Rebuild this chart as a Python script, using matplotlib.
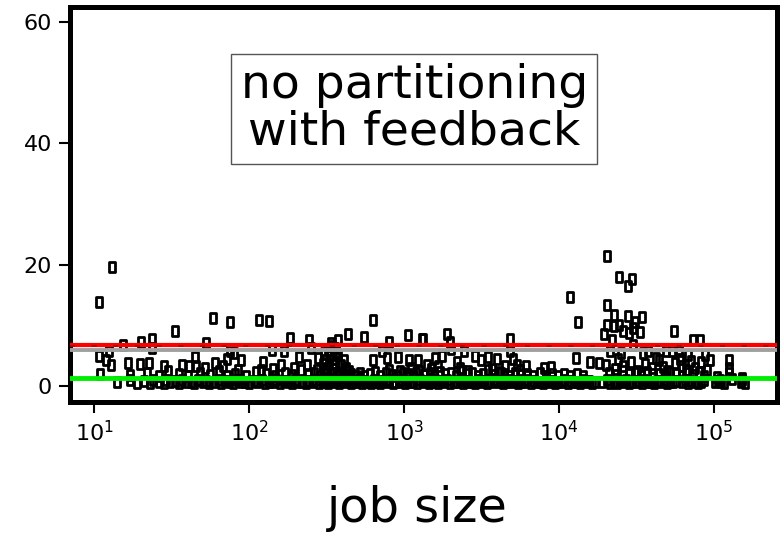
"""Slowdown vs job size, no partitioning with feedback"""

import matplotlib
matplotlib.use('Agg')
import matplotlib.pyplot as plt
import numpy as np
from matplotlib.path import Path

# outliers, (job size, value)
left_pts = [(10.7, 13.8), (13, 19.6), (58, 11.2), (75, 10.6), (33, 9.1), (15.4, 6.8), (20, 7.3),
            (23.5, 7.7), (23.5, 6.2), (12.4, 5.8), (10.7, 4.95), (11.9, 4.3), (12.8, 3.5), (10.9, 2.0),
            (16.6, 3.7), (19.6, 3.6), (22.5, 3.7), (28.3, 3.35), (37, 3.5), (41, 3.3), (45, 4.8),
            (45.5, 3.2), (52, 3.0), (52.5, 7.1), (60, 3.7), (68, 3.2), (71.6, 4.4), (75, 5.7),
            (80, 5.4), (89, 4.2), (85, 2.6)]

mid_pts = [(116, 10.9), (134, 10.7), (631, 10.8), (183, 7.9), (243, 7.6), (436, 8.5), (551, 8.1),
           (1067, 8.4), (1300, 7.7), (376, 7.6), (338, 7.0), (141, 5.9), (168, 5.8), (210, 4.8),
           (252, 6.2), (279, 4.6), (304, 5.4), (323, 5.9), (356, 6.2), (410, 4.3), (631, 4.3),
           (716, 5.7), (770, 4.6), (800, 7.3), (914, 4.8), (1080, 4.3), (1230, 4.3), (123, 4.0),
           (120, 2.6), (143, 2.8), (160, 3.5), (195, 2.9), (235, 3.5), (272, 2.6), (795, 2.6),
           (940, 2.4), (310, 4.2), (330, 5.0), (345, 4.5), (360, 3.8), (375, 5.1), (390, 3.4),
           (320, 3.0), (350, 2.8), (300, 3.6), (420, 3.0), (440, 2.5), (380, 2.2), (340, 6.5),
           (365, 5.6)]

midright_pts = [(11800, 14.6), (13300, 10.6), (1320, 7.7), (1880, 8.6), (1990, 7.3), (2000, 6.05),
                (2450, 5.8), (4830, 7.7), (4830, 5.8), (2870, 4.95), (3160, 4.2), (3480, 4.7),
                (4000, 4.4), (5070, 4.4), (5350, 3.5), (6160, 3.3), (12900, 4.6), (15900, 4.0),
                (18200, 3.7), (1590, 4.6), (1750, 4.95), (2180, 4.0), (7950, 2.9), (8930, 3.1),
                (1400, 3.5), (1500, 2.8), (1650, 3.2), (2300, 3.0), (2600, 2.5), (1100, 3.0),
                (1200, 2.2), (4500, 3.2), (5600, 2.6), (3700, 2.8), (4200, 2.2)]

right_pts = [(20400, 21.5), (24500, 17.9), (29400, 17.6), (27700, 16.4), (20400, 13.4), (22600, 11.7),
             (28000, 11.6), (34200, 11.3), (31000, 10.6), (20400, 10.1), (22600, 9.8), (24500, 10.1),
             (26000, 9.0), (28200, 8.7), (30200, 9.5), (33100, 8.9), (19500, 8.5), (55000, 9.1),
             (21900, 7.6), (30200, 6.8), (73000, 7.5), (81000, 7.5), (21400, 5.7), (25100, 5.4),
             (35000, 5.4), (37700, 5.8), (49000, 5.8), (53300, 5.7), (59700, 5.8), (68400, 5.1),
             (87000, 5.1), (126000, 4.3), (126000, 3.0), (20000, 3.5), (23000, 2.8), (26000, 3.2),
             (29000, 4.0), (32000, 2.5), (36000, 3.6), (40000, 2.9), (44000, 4.2), (47000, 3.1),
             (50000, 2.4), (56000, 3.8), (62000, 3.3), (66000, 2.7), (71000, 4.1), (76000, 3.0),
             (83000, 3.9), (90000, 2.6), (95000, 4.2), (24000, 4.5), (42000, 4.6), (60000, 4.4),
             (126000, 2.2), (104000, 1.5), (153000, 1.3), (153000, 0.9), (110000, 1.0), (130000, 1.1)]

# the dense band near the bottom
band_pts = [(14, 0.6), (17, 0.9), (19, 0.5), (21, 0.8), (23, 0.4), (24, 1.0), (26, 0.7), (28, 0.5),
            (29, 0.9), (31, 0.6), (33, 0.8), (35, 0.5), (37, 0.9), (39, 0.6), (42, 0.7), (44, 0.4),
            (47, 0.9), (50, 0.6), (53, 0.8), (55, 0.5), (59, 0.7), (63, 0.9), (66, 0.5), (70, 0.8),
            (74, 0.6), (79, 0.4), (83, 0.9), (88, 0.6), (94, 0.7), (99, 0.5), (108, 0.8), (113, 0.6),
            (121, 0.9), (127, 0.5), (134, 0.7), (142, 0.6), (150, 0.9), (158, 0.5), (167, 0.8),
            (178, 0.6), (188, 0.4), (199, 0.9), (205, 0.6), (218, 0.7), (231, 0.5), (244, 0.8),
            (259, 0.6), (270, 0.9), (283, 0.4), (298, 0.7), (311, 0.9), (325, 0.5), (338, 0.8),
            (352, 0.6), (366, 1.0), (381, 0.5), (398, 0.8), (415, 0.6), (433, 0.9), (452, 0.5),
            (470, 0.7), (491, 0.6), (515, 0.9), (538, 0.5), (560, 0.8), (588, 0.6), (615, 0.4),
            (640, 0.9), (668, 0.7), (702, 0.5), (735, 0.8), (768, 0.6), (805, 0.9), (842, 0.5),
            (880, 0.7), (921, 0.6), (963, 0.9), (1010, 0.5), (1055, 0.8), (1102, 0.6), (1150, 0.7),
            (1210, 0.5), (1265, 0.9), (1320, 0.6), (1385, 0.8), (1450, 0.4), (1515, 0.7), (1590, 0.9),
            (1660, 0.5), (1740, 0.8), (1820, 0.6), (1905, 0.9), (1990, 0.5), (2090, 0.7), (2180, 0.6),
            (2290, 0.9), (2395, 0.5), (2505, 0.8), (2620, 0.6), (2745, 0.7), (2870, 0.5), (3010, 0.9),
            (3150, 0.6), (3300, 0.8), (3450, 0.5), (3610, 0.7), (3780, 0.9), (3960, 0.6), (4140, 0.8),
            (4340, 0.5), (4540, 0.7), (4750, 0.9), (4980, 0.6), (5210, 0.8), (5450, 0.5), (5710, 0.7),
            (5980, 0.6), (6260, 0.9), (6550, 0.5), (6860, 0.8), (7180, 0.6), (7520, 0.7), (7870, 0.5),
            (8240, 0.9), (8630, 0.6), (9030, 0.8), (9460, 0.5), (9900, 0.7), (10370, 0.6), (10850, 0.9),
            (11360, 0.5), (11900, 0.8), (12450, 0.6), (13040, 0.7), (13650, 0.5), (14300, 0.9),
            (14970, 0.6), (15670, 0.8), (16410, 0.5), (17180, 0.7), (19000, 0.6), (20500, 0.9),
            (21500, 0.5), (22600, 0.7), (23700, 0.4), (24800, 0.8), (26000, 0.6), (27200, 0.9),
            (28500, 0.5), (29800, 0.7), (31200, 0.6), (32700, 0.8), (34300, 0.5), (35900, 0.9),
            (37600, 0.6), (39400, 0.7), (41200, 0.5), (43200, 0.8), (45200, 0.6), (47300, 0.9),
            (49500, 0.5), (51900, 0.7), (54300, 0.6), (56900, 0.8), (62400, 0.7), (65300, 0.9),
            (68400, 0.5), (71600, 0.8), (75000, 0.6), (78500, 0.4), (82200, 0.7), (86100, 0.9),
            (101000, 0.6), (106000, 0.8), (112000, 0.6), (116000, 0.5), (150000, 0.7), (158000, 0.5)]

upper_band_pts = [(17, 1.8), (22, 2.1), (26, 1.7), (30, 2.4), (35, 1.9), (40, 1.6), (48, 2.2), (56, 1.8),
                  (64, 2.5), (72, 1.7), (81, 2.0), (95, 1.6), (110, 2.3), (128, 1.9), (146, 1.7), (170, 2.2),
                  (190, 1.8), (215, 2.6), (240, 1.9), (262, 2.2), (288, 1.7), (310, 2.4), (330, 1.9),
                  (350, 2.1), (372, 1.6), (395, 2.3), (425, 1.8), (455, 2.0), (490, 1.7), (520, 2.2),
                  (555, 1.6), (600, 1.9), (650, 2.3), (700, 1.7), (760, 2.1), (830, 1.8), (900, 1.6),
                  (980, 2.2), (1060, 1.9), (1150, 1.7), (1240, 2.4), (1350, 1.8), (1460, 2.1), (1570, 1.6),
                  (1700, 2.3), (1840, 1.9), (2000, 2.2), (2150, 1.7), (2350, 2.5), (2550, 1.9), (2750, 2.2),
                  (3000, 1.7), (3250, 2.0), (3500, 2.6), (3800, 1.8), (4100, 2.3), (4400, 1.9), (4800, 1.6),
                  (5200, 2.2), (5700, 1.8), (6200, 2.0), (6800, 1.6), (7500, 2.1), (8200, 1.7), (9000, 2.0),
                  (9800, 1.6), (10800, 1.9), (11800, 1.7), (13000, 2.0), (14200, 1.6), (21000, 2.2),
                  (23500, 1.8), (26000, 2.4), (28500, 1.9), (31000, 2.1), (34000, 1.7), (37000, 2.3),
                  (40500, 1.9), (44000, 2.0), (48000, 1.7), (52000, 2.2), (57000, 1.9), (62000, 1.6),
                  (67000, 2.1), (73000, 1.8), (80000, 2.3), (86000, 1.7)]

# summary levels drawn as horizontal lines
mean_level = 6.8
mean_dash_level = 6.5
grey_level = 6.0
median_level = 1.3

x_ticks = [10, 100, 1000, 10000, 100000]
x_tick_labels = ['$10^{1}$', '$10^{2}$', '$10^{3}$', '$10^{4}$', '$10^{5}$']
y_ticks = [0, 20, 40, 60]


def main():
    all_pts = band_pts + upper_band_pts + left_pts + mid_pts + midright_pts + right_pts
    xs = np.array([p[0] for p in all_pts])
    ys = np.array([p[1] for p in all_pts])

    # small upright rectangle marker
    rect = Path([(-0.3, -0.5), (0.3, -0.5), (0.3, 0.5), (-0.3, 0.5), (-0.3, -0.5)],
                [Path.MOVETO, Path.LINETO, Path.LINETO, Path.LINETO, Path.CLOSEPOLY])

    fig = plt.figure(figsize=(7.82, 5.38), dpi=100)
    ax = fig.add_axes([0.0895, 0.253, 0.904, 0.734])

    ax.plot(xs, ys, linestyle='none', marker=rect, markersize=6.8, mfc='none',
            mec='black', mew=2.0, zorder=2)

    ax.axhline(grey_level, color='#a0a0a0', lw=2.8, zorder=3)
    ax.axhline(mean_level, color='#ff0000', lw=3, zorder=4)
    ax.axhline(mean_dash_level, color='#b00000', lw=1.2, dashes=(3, 10), zorder=5)
    ax.axhline(median_level, color='#00ee00', lw=3.5, zorder=4)

    ax.set_xscale('log')
    ax.set_xlim(10 ** 0.843, 10 ** 5.407)
    ax.set_ylim(-2.64, 62.5)
    ax.set_xticks(x_ticks)
    ax.set_xticklabels(x_tick_labels)
    ax.xaxis.set_minor_locator(matplotlib.ticker.NullLocator())
    ax.set_yticks(y_ticks)

    for s in ax.spines.values():
        s.set_linewidth(3.6)
    ax.tick_params(direction='out', length=8, width=1.5, labelsize=16, pad=5)

    ax.text(0.487, 0.742, 'no partitioning\nwith feedback', transform=ax.transAxes,
            ha='center', va='center', multialignment='center', fontsize=34, linespacing=1.05,
            bbox=dict(boxstyle='square,pad=0.2', fc='white', ec='#555555', lw=1), zorder=6)

    fig.text(0.534, 0.03, 'job size', ha='center', va='baseline', fontsize=34.5)

    fig.savefig('out.png', dpi=100)


if __name__ == '__main__':
    main()
